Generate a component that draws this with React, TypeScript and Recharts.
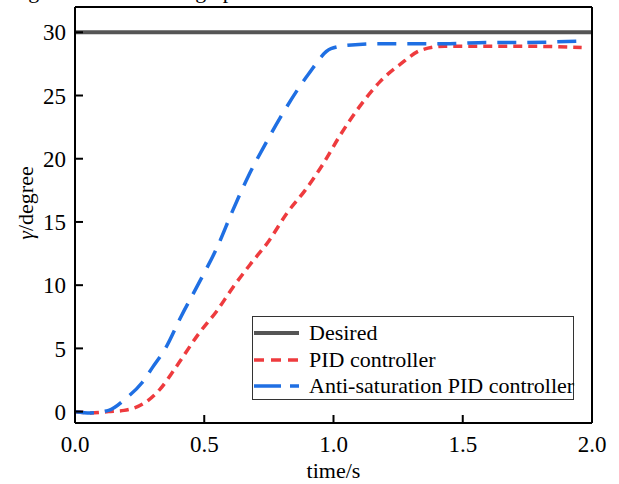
import { LineChart, Line, XAxis, YAxis, Label } from "recharts"

const desiredTime = [0, 2]
const desiredAngle = [30, 30]

const pidTime = [0, 0.06, 0.13, 0.19, 0.27, 0.33, 0.39, 0.48, 0.55, 0.61, 0.68, 0.75, 0.82, 0.89, 0.96, 1.03, 1.1, 1.18, 1.26, 1.34, 1.43, 1.59, 1.73, 1.96]
const pidAngle = [0, -0.1, 0, 0.1, 0.7, 1.8, 3.5, 6.2, 8.0, 9.8, 11.7, 13.5, 15.7, 17.5, 19.6, 22.0, 24.1, 26.1, 27.5, 28.6, 28.9, 28.9, 28.9, 28.8]

const antiTime = [0, 0.06, 0.13, 0.2, 0.26, 0.3, 0.35, 0.41, 0.48, 0.55, 0.61, 0.67, 0.74, 0.81, 0.9, 0.99, 1.07, 1.18, 1.32, 1.45, 1.59, 1.73, 1.96]
const antiAngle = [0, -0.1, 0.1, 1.1, 2.3, 3.5, 5.0, 7.5, 10.2, 13.0, 15.9, 18.6, 21.3, 23.8, 26.6, 28.7, 29.0, 29.1, 29.1, 29.1, 29.2, 29.2, 29.3]

const xTicks = [0, 0.5, 1, 1.5, 2]
const yTicks = [0, 5, 10, 15, 20, 25, 30]

const zip = (t: number[], v: number[]) => t.map((x, i) => ({ t: x, v: v[i] }))

const desiredData = zip(desiredTime, desiredAngle)
const pidData = zip(pidTime, pidAngle)
const antiData = zip(antiTime, antiAngle)

const FONT = "'Liberation Serif', 'Times New Roman', serif"
const RED = "#ee3b3e"
const BLUE = "#1f6fe3"
const GREY = "#555555"

const legendRows = [
  { name: "Desired", color: GREY, dash: undefined as string | undefined, width: 4 },
  { name: "PID controller", color: RED, dash: "10 7", width: 3.5 },
  { name: "Anti-saturation PID controller", color: BLUE, dash: "27 9 9", width: 3.5 },
]

function LegendBox() {
  return (
    <div
      style={{
        position: "absolute",
        left: 252,
        top: 316,
        width: 322,
        height: 84,
        boxSizing: "border-box",
        border: "1px solid #333",
        background: "#fff",
        paddingTop: 3,
        fontFamily: FONT,
        fontSize: 22,
        color: "#000",
      }}
    >
      {legendRows.map((r) => (
        <div key={r.name} style={{ display: "flex", alignItems: "center", height: 26.5 }}>
          <svg width={56} height={10} style={{ flex: "none" }}>
            <line x1={1} y1={5} x2={46} y2={5} stroke={r.color} strokeWidth={r.width} strokeDasharray={r.dash} />
          </svg>
          <span style={{ whiteSpace: "nowrap", lineHeight: "26px" }}>{r.name}</span>
        </div>
      ))}
    </div>
  )
}

const yLabel = (props: any) => {
  const vb = props.viewBox || { x: 0, y: 7, width: 75, height: 416 }
  const cx = 25
  const cy = vb.y + vb.height / 2 - 12
  return (
    <text
      x={cx}
      y={cy}
      transform={`rotate(-90 ${cx} ${cy})`}
      textAnchor="middle"
      dominantBaseline="central"
      fontSize={22}
      fontFamily={FONT}
      fill="#000"
    >
      <tspan fontStyle="italic">γ</tspan>/degree
    </text>
  )
}

export default function App() {
  const tickStyle = { fontSize: 23, fill: "#000", fontFamily: FONT }
  return (
    <div style={{ position: "absolute", left: 0, top: 0, width: 619, height: 484, background: "#fff", overflow: "hidden" }}>
      <div
        style={{
          position: "absolute",
          left: 10,
          top: -20,
          fontFamily: FONT,
          fontSize: 22,
          lineHeight: "22px",
          whiteSpace: "nowrap",
          color: "#000",
        }}
      >
        Figure 5. The tracking up
      </div>
      <LineChart width={619} height={484} margin={{ top: 0, right: 26, left: 0, bottom: 0 }} style={{ fontFamily: FONT }}>
        <XAxis
          xAxisId="b"
          type="number"
          dataKey="t"
          domain={[0, 2]}
          ticks={xTicks}
          tickFormatter={(v: number) => v.toFixed(1)}
          tickSize={-8}
          tickMargin={21}
          height={61}
          tick={tickStyle}
          stroke="#000"
          strokeWidth={2}
          allowDataOverflow
        >
          <Label value="time/s" position="insideBottom" offset={6} style={{ fontSize: 22, fill: "#000", fontFamily: FONT }} />
        </XAxis>
        <XAxis
          xAxisId="t"
          orientation="top"
          type="number"
          dataKey="t"
          domain={[0, 2]}
          ticks={xTicks}
          tickSize={-8}
          height={7}
          tick={false}
          stroke="#000"
          strokeWidth={2}
          allowDataOverflow
        />
        <YAxis
          yAxisId="l"
          type="number"
          domain={[-0.9, 32]}
          ticks={yTicks}
          tickSize={-8}
          tickMargin={17}
          width={75}
          tick={tickStyle}
          stroke="#000"
          strokeWidth={2}
          allowDataOverflow
        >
          <Label content={yLabel} />
        </YAxis>
        <YAxis
          yAxisId="r"
          orientation="right"
          type="number"
          domain={[-0.9, 32]}
          ticks={yTicks}
          tickSize={-8}
          width={1}
          tick={false}
          stroke="#000"
          strokeWidth={2}
          allowDataOverflow
        />
        <Line
          xAxisId="b"
          yAxisId="l"
          data={desiredData}
          dataKey="v"
          name="Desired"
          type="linear"
          stroke={GREY}
          strokeWidth={4}
          dot={false}
          activeDot={false}
          isAnimationActive={false}
        />
        <Line
          xAxisId="b"
          yAxisId="l"
          data={pidData}
          dataKey="v"
          name="PID controller"
          type="monotone"
          stroke={RED}
          strokeWidth={3.5}
          strokeDasharray="9 6"
          dot={false}
          activeDot={false}
          isAnimationActive={false}
        />
        <Line
          xAxisId="b"
          yAxisId="l"
          data={antiData}
          dataKey="v"
          name="Anti-saturation PID controller"
          type="monotone"
          stroke={BLUE}
          strokeWidth={3.5}
          strokeDasharray="19 11"
          dot={false}
          activeDot={false}
          isAnimationActive={false}
        />
      </LineChart>
      <LegendBox />
    </div>
  )
}
